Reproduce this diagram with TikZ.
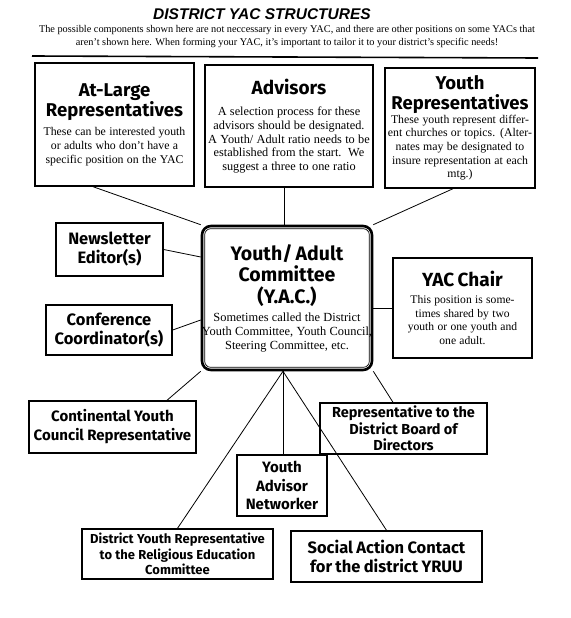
\documentclass[tikz,border=0pt]{standalone}
\usepackage{fontspec}
\setmainfont{Liberation Serif}
\newfontfamily\headfont{Fira Sans}
\newfontfamily\titlefont{Liberation Sans}
\usetikzlibrary{positioning, calc}

% heading and body fonts of the boxes
\newcommand{\hd}[2]{\fontsize{#1}{#2}\selectfont\headfont\bfseries}
\newcommand{\bd}[1]{\fontsize{#1}{13.6}\selectfont\rmfamily\mdseries}

\begin{document}
\begin{tikzpicture}[x=1pt, y=-1pt,
    box/.style={draw, line width=1.4pt, rectangle, inner sep=1pt, align=center},
    hub/.style={draw, line width=2.6pt, rectangle, rounded corners=9pt, inner sep=1pt, align=center},
    link/.style={line width=0.8pt}]

    % Frame
    \useasboundingbox (0,0) rectangle (570,618);

    % Title
    \node[font=\titlefont\bfseries\itshape\fontsize{15.5}{17}\selectfont] (title) at (262,14) {DISTRICT YAC STRUCTURES};
    \node[font=\fontsize{10.3}{13}\selectfont, align=center] (sub) at (287,37)
        {The possible components shown here are not neccessary in every YAC, and there are other positions on some YACs that\\
         aren't shown here. When forming your YAC, it's important to tailor it to your district's specific needs!};
    \draw[line width=1.6pt] (32,56) -- (538,58);

    % Top row
    \node[box, minimum width=159, minimum height=123, text width=157] (atlarge) at (114.5,124.5)
        {\hd{18.5}{19}At-Large\\Representatives\par\vspace{6pt}
         \bd{11.8}These can be interested youth\\or adults who don't have a\\specific position on the YAC\par};
    \node[box, minimum width=168, minimum height=122, text width=166] (advisors) at (289,126)
        {\hd{19}{20}Advisors\par\vspace{8pt}
         \bd{12.3}A selection process for these\\advisors should be designated.\\A Youth/ Adult ratio needs to be\\established from the start.\ \ We\\suggest a three to one ratio\par};
    \node[box, minimum width=150, minimum height=120, text width=148] (youthreps) at (460,128)
        {\hd{18.5}{20}Youth\\Representatives\par
         \bd{11.8}These youth represent differ-\\ent churches or topics. (Alter-\\nates may be designated to\\insure representation at each\\mtg.)\par};

    % Committee
    \node[hub, minimum width=170, minimum height=144, text width=168] (yac) at (287,298)
        {\hd{19.5}{21.5}Youth/ Adult\\Committee\\(Y.A.C.)\par\vspace{5pt}
         \bd{12.4}Sometimes called the District\\\makebox[\linewidth]{Youth Committee, Youth Council,}\\Steering Committee, etc.\par};
    \draw[line width=0.7pt, rounded corners=6pt]
        ([shift={(4pt,-4pt)}]yac.north west) rectangle ([shift={(-4pt,4pt)}]yac.south east);

    % Side boxes
    \node[box, minimum width=107, minimum height=53, text width=105] (newsletter) at (109.5,249.5)
        {\hd{16.5}{19}Newsletter\\Editor(s)\par};
    \node[box, minimum width=126, minimum height=50, text width=124] (conference) at (109,330)
        {\hd{16.5}{19}Conference\\Coordinator(s)\par};
    \node[box, minimum width=139, minimum height=100, text width=137] (chair) at (462.5,308)
        {\hd{19}{20}YAC Chair\par\vspace{3pt}
         \bd{11.6}This position is some-\\times shared by two\\youth or one youth and\\one adult.\par};

    % Lower boxes
    \node[box, minimum width=167, minimum height=52, text width=165] (continental) at (112.5,427)
        {\hd{15}{19}Continental Youth\\Council Representative\par};
    \node[box, minimum width=167, minimum height=51, text width=165] (board) at (403.5,428.5)
        {\hd{14.5}{16.5}Representative to the\\District Board of\\Directors\par};
    \node[box, minimum width=90, minimum height=61, text width=88] (networker) at (282,485.5)
        {\hd{15}{18.5}Youth\\Advisor\\Networker\par};
    \node[box, minimum width=191, minimum height=50, text width=189] (religed) at (177.5,554)
        {\hd{13}{15.5}District Youth Representative\\to the Religious Education\\Committee\par};
    \node[box, minimum width=191, minimum height=51, text width=189] (social) at (386.5,556.5)
        {\hd{16.5}{19.5}Social Action Contact\\for the district YRUU\par};

    % Connectors
    \draw[link] ([xshift=-21.5pt]atlarge.south) -- (yac.north west);
    \draw[link] ([xshift=-5pt]advisors.south) coordinate (advfoot) -- (advfoot |- yac.north);
    \draw[link] ([xshift=-7pt]youthreps.south) -- (yac.north east);
    \draw[link] (newsletter.east) -- ([yshift=41pt]yac.west);
    \draw[link] (conference.east) -- ([yshift=-22pt]yac.west);
    \draw[link] (chair.west) -- (chair.west -| yac.east);
    \draw[link] ([xshift=54.5pt]continental.north) -- (yac.south west);
    \draw[link] ([xshift=-10.5pt]board.north) -- (yac.south east);

    % Fan below the committee
    \coordinate (apex) at ([xshift=-4pt]yac.south);
    \draw[link] (apex) -- (apex |- networker.north);
    \draw[link] (apex) -- (religed.north);
    \draw[link] (apex) -- (social.north);
\end{tikzpicture}
\end{document}
